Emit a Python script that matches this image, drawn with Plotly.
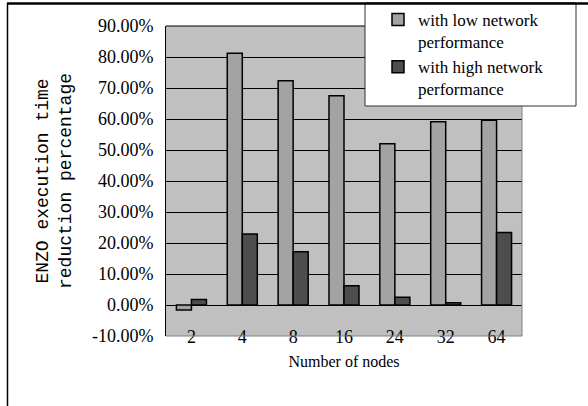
import plotly.graph_objects as go

# Node counts and ENZO execution time reduction (%) for each network setting
nodes = ["2", "4", "8", "16", "24", "32", "64"]
low_network = [-1.6, 81.2, 72.3, 67.5, 52.0, 59.1, 59.6]
high_network = [1.8, 22.9, 17.2, 6.2, 2.5, 0.7, 23.4]
series_names = ["with low network<br>performance", "with high network<br>performance"]
y_ticks = list(range(-10, 100, 10))
y_tick_text = [f"{v:.2f}%" for v in y_ticks]

W, H = 588, 406
ML, MR, MT, MB = 166, 66, 26, 70
PW, PH = W - ML - MR, H - MT - MB


def px_x(px):
    return (px - ML) / PW


def px_y(py):
    return (H - MB - py) / PH


serif = "Liberation Serif"
mono = "Liberation Mono"

fig = go.Figure()
fig.add_trace(go.Bar(
    x=nodes, y=low_network, name=series_names[0],
    marker=dict(color="#a3a3a3", line=dict(color="black", width=1.5)),
))
fig.add_trace(go.Bar(
    x=nodes, y=high_network, name=series_names[1],
    marker=dict(color="#4d4d4d", line=dict(color="black", width=1.5)),
))

boundaries = [i - 0.5 for i in range(len(nodes) + 1)]
x_range = [-0.5, len(nodes) - 0.5]

fig.update_layout(
    width=W, height=H,
    margin=dict(l=ML, r=MR, t=MT, b=MB, pad=0, autoexpand=False),
    paper_bgcolor="white",
    plot_bgcolor="#c0c0c0",
    barmode="group",
    bargap=0.41,
    bargroupgap=0,
    showlegend=True,
    legend=dict(
        x=px_x(378), y=px_y(2), xanchor="left", yanchor="top",
        bgcolor="rgba(0,0,0,0)", borderwidth=0,
        font=dict(family=serif, size=17, color="black"),
        valign="top", itemwidth=30,
    ),
    # category axis; labels sit just above the plot's bottom edge
    xaxis=dict(
        type="category", range=x_range,
        anchor="free", position=0.038,
        showgrid=False, zeroline=False, showline=False,
        ticks="",
        tickfont=dict(family=serif, size=18, color="black"),
        title=dict(text="Number of nodes", standoff=9,
                   font=dict(family=serif, size=16, color="black")),
    ),
    # category axis line at y = 0 with boundary ticks
    xaxis2=dict(
        overlaying="x", anchor="free", position=0.1,
        range=x_range,
        showgrid=False, zeroline=False, showticklabels=False,
        showline=True, linecolor="black", linewidth=1,
        ticks="inside", ticklen=7, tickcolor="black", tickwidth=1,
        tickmode="array", tickvals=boundaries,
    ),
    yaxis=dict(
        range=[-10, 90], tickmode="array", tickvals=y_ticks, ticktext=y_tick_text,
        showgrid=True, gridcolor="black", gridwidth=1,
        zeroline=False,
        showline=True, linecolor="black", linewidth=1,
        ticks="inside", ticklen=5, tickcolor="black",
        ticklabelstandoff=8,
        tickfont=dict(family=serif, size=18, color="black"),
        title=dict(text="ENZO execution time<br>reduction percentage", standoff=15,
                   font=dict(family=mono, size=18, color="black")),
    ),
    shapes=[
        # top, bottom and right edges of the plot area
        dict(type="line", xref="paper", yref="paper", x0=0, x1=1, y0=1, y1=1,
             line=dict(color="black", width=1), layer="above"),
        dict(type="line", xref="paper", yref="paper", x0=0, x1=1, y0=0, y1=0,
             line=dict(color="#808080", width=1), layer="above"),
        dict(type="line", xref="paper", yref="paper", x0=1, x1=1, y0=0, y1=1,
             line=dict(color="#808080", width=1), layer="above"),
        # legend box
        dict(type="rect", xref="paper", yref="paper",
             x0=px_x(365), x1=px_x(576), y0=px_y(106), y1=px_y(3),
             fillcolor="white", line=dict(color="#333333", width=1), layer="above"),
        # outer frame: left and top rules
        dict(type="line", xref="paper", yref="paper",
             x0=px_x(7.5), x1=px_x(7.5), y0=px_y(H), y1=px_y(3),
             line=dict(color="black", width=1.5), layer="above"),
        dict(type="line", xref="paper", yref="paper",
             x0=px_x(7), x1=px_x(W), y0=px_y(3.5), y1=px_y(3.5),
             line=dict(color="black", width=2.5), layer="above"),
    ],
)

fig.write_html("out.html")
